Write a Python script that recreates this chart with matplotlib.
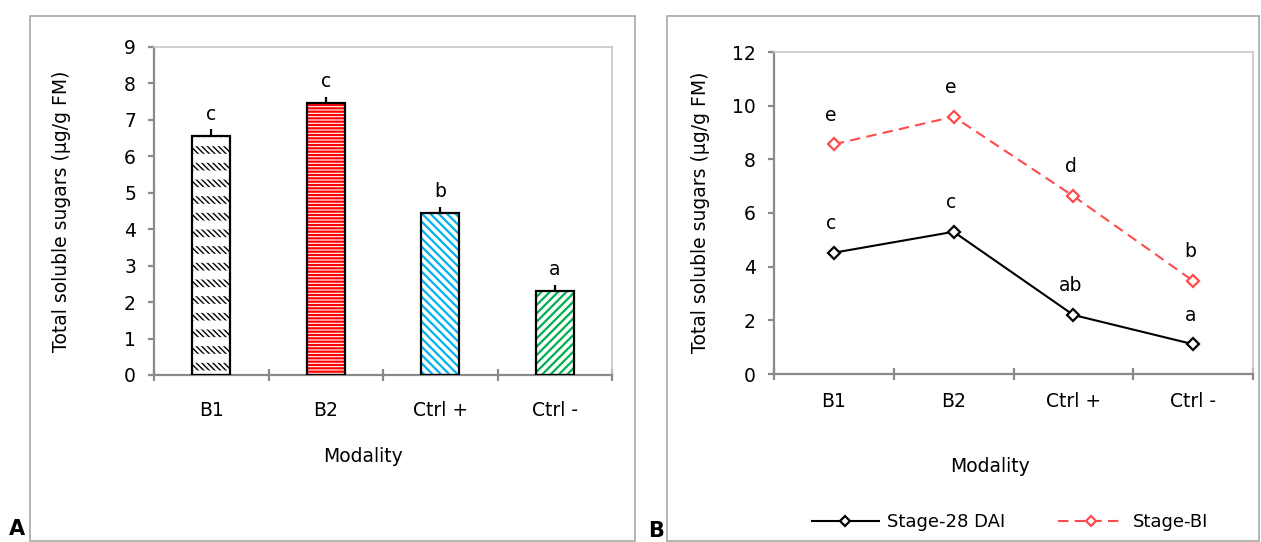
import numpy as np
import matplotlib
matplotlib.use("Agg")
import matplotlib.pyplot as plt
from matplotlib.patches import Rectangle

# ---------------- data ----------------
categories = ["B1", "B2", "Ctrl +", "Ctrl -"]
bar_values = [6.57, 7.46, 4.44, 2.31]
bar_errors = [0.17, 0.17, 0.18, 0.16]
bar_letters = ["c", "c", "b", "a"]

stage28_values = [4.52, 5.30, 2.20, 1.11]
stage28_letters = ["c", "c", "ab", "a"]
stageBI_values = [8.56, 9.59, 6.63, 3.47]
stageBI_letters = ["e", "e", "d", "b"]

left_yticks = list(range(0, 10))
right_yticks = [0, 2, 4, 6, 8, 10, 12]

ylabel_text = "Total soluble sugars (µg/g FM)"
xlabel_text = "Modality"
series_names = ["Stage-28 DAI", "Stage-BI"]

# ---------------- style ----------------
W, H = 1261, 542
plt.rcParams['font.family'] = ['DejaVu Sans']
plt.rcParams['hatch.linewidth'] = 1.5
FS = 13.5
AX_DARK = '#8A8A8A'
AX_LIGHT = '#C8C8C8'
BOX = '#A8A8A8'
RED = '#FF4B4B'

fig = plt.figure(figsize=(W / 100, H / 100), dpi=100)


def fx(px):
    return px / W


def fy(py):
    return 1 - py / H


def axes_px(x0, y0, x1, y1):
    return fig.add_axes([fx(x0), fy(y1), fx(x1) - fx(x0), (y1 - y0) / H])


# panel boxes
for (x0, y0, x1, y1) in [(30, 16, 635, 541), (667, 16, 1259, 541)]:
    fig.add_artist(Rectangle((fx(x0), fy(y1)), fx(x1) - fx(x0), (y1 - y0) / H,
                             transform=fig.transFigure, fill=False,
                             edgecolor=BOX, linewidth=1.2))


def style_axes(ax, yticks, xpad):
    for s in ['left', 'bottom']:
        ax.spines[s].set_color(AX_DARK)
        ax.spines[s].set_linewidth(1.6)
    for s in ['top', 'right']:
        ax.spines[s].set_color(AX_LIGHT)
        ax.spines[s].set_linewidth(1.2)
    x = np.arange(len(categories))
    ax.set_xlim(-0.5, len(categories) - 0.5)
    ax.set_xticks(x)
    ax.set_xticklabels(categories, fontsize=FS)
    ax.set_xticks(np.arange(-0.5, len(categories), 1.0), minor=True)
    ax.tick_params(axis='x', which='major', length=0, pad=xpad)
    ax.tick_params(axis='x', which='minor', direction='inout', length=8,
                   width=1.6, color=AX_DARK)
    ax.set_yticks(yticks)
    ax.set_yticklabels([str(t) for t in yticks], fontsize=FS)
    ax.set_ylim(yticks[0], yticks[-1])
    ax.tick_params(axis='y', direction='out', length=4, width=1.6,
                   color=AX_DARK, pad=9)


def set_hlw(patches, lw):
    for p in patches:
        if hasattr(p, 'set_hatch_linewidth'):
            p.set_hatch_linewidth(lw)


# ---------------- panel A ----------------
ax1 = axes_px(154, 47, 612, 375)
style_axes(ax1, left_yticks, 19)
x = np.arange(len(categories))
bw = 0.33
hatches = ['\\\\\\\\\\\\', '-----', '\\\\\\\\', '////']
hcolors = ['black', '#FF0000', '#00B0F0', '#00B050']
hlws = [1.0, 1.6, 1.6, 1.6]
for i in range(len(categories)):
    b = ax1.bar(x[i], bar_values[i], width=bw, color='white',
                edgecolor=hcolors[i], hatch=hatches[i], linewidth=0, zorder=2)
    set_hlw(b, hlws[i])
# break the B1 diagonals into short dashes
ov = ax1.bar(x[0], bar_values[0], width=bw, fill=False, edgecolor='white',
             hatch='-', linewidth=0, zorder=2.5)
set_hlw(ov, 6.5)
ax1.bar(x, bar_values, width=bw, fill=False, edgecolor='black', linewidth=1.6,
        zorder=3)
ax1.errorbar(x, bar_values, yerr=[np.zeros(len(x)), bar_errors], fmt='none',
             ecolor='black', elinewidth=1.6, capsize=0, zorder=4)
for i in range(len(categories)):
    ax1.annotate(bar_letters[i], (x[i], bar_values[i] + bar_errors[i]),
                 xytext=(0, 7), textcoords='offset points', ha='center',
                 va='baseline', fontsize=FS)

fig.text(fx(62), fy(211), ylabel_text, rotation=90, ha='center', va='center',
         fontsize=FS)
fig.text(fx(363), fy(456), xlabel_text, ha='center', va='center', fontsize=FS)
fig.text(fx(9), fy(519), "A", ha='left', va='top', fontsize=15,
         fontweight='bold')

# ---------------- panel B ----------------
ax2 = axes_px(774, 52, 1253, 374)
style_axes(ax2, right_yticks, 13)
l1, = ax2.plot(x, stage28_values, color='black', linewidth=1.5, marker='D',
               markersize=6.3, markerfacecolor='white', markeredgecolor='black',
               markeredgewidth=1.6, zorder=3, clip_on=False)
l2, = ax2.plot(x, stageBI_values, color=RED, linewidth=1.5,
               linestyle=(0, (5, 3)), marker='D', markersize=6.3,
               markerfacecolor='white', markeredgecolor=RED,
               markeredgewidth=1.6, zorder=3, clip_on=False)
for vals, letters in [(stage28_values, stage28_letters),
                      (stageBI_values, stageBI_letters)]:
    for i in range(len(categories)):
        ax2.annotate(letters[i], (x[i], vals[i]), xytext=(-2, 17),
                     textcoords='offset points', ha='center', va='baseline',
                     fontsize=FS)

fig.text(fx(700), fy(212), ylabel_text, rotation=90, ha='center', va='center',
         fontsize=FS)
fig.text(fx(990), fy(466), xlabel_text, ha='center', va='center', fontsize=FS)
fig.text(fx(648), fy(521), "B", ha='left', va='top', fontsize=15,
         fontweight='bold')

fig.legend([l1, l2], series_names, loc='center left',
           bbox_to_anchor=(fx(812), fy(522)), ncol=2, frameon=False,
           handlelength=3.7, handletextpad=0.45, columnspacing=2.9,
           borderpad=0, borderaxespad=0, fontsize=13, numpoints=1,
           markerscale=0.8)

fig.savefig("out.png", dpi=100)
